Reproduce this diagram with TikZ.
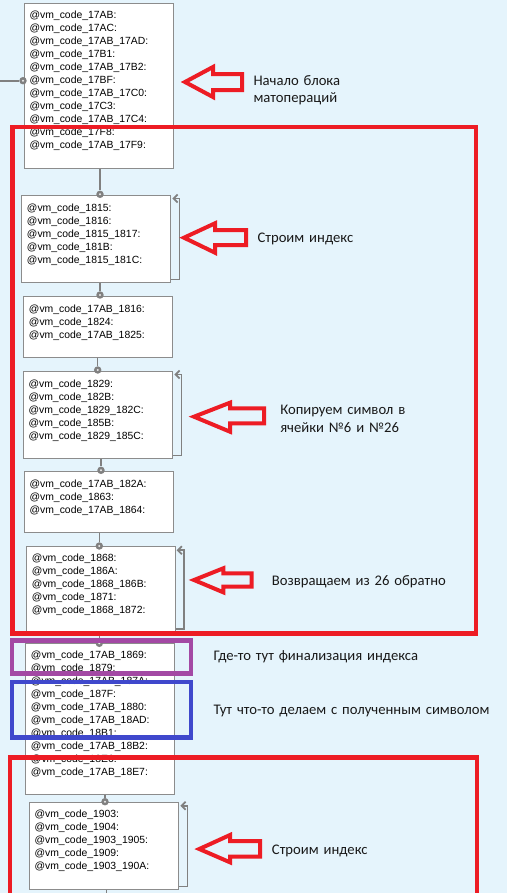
\documentclass[tikz,border=0pt]{standalone}
\usepackage{fontspec}
\setmainfont{Carlito}
\newfontfamily\codefont{Liberation Sans}
\usetikzlibrary{fit,arrows.meta,calc}
\definecolor{bgblue}{RGB}{229,244,252}
\definecolor{boxgray}{RGB}{140,140,140}
\definecolor{conngray}{RGB}{128,128,128}
\definecolor{pred}{RGB}{237,28,36}
\definecolor{ppurple}{RGB}{163,73,164}
\definecolor{pblue}{RGB}{63,72,204}
\begin{document}
\begin{tikzpicture}[x=0.75pt,y=-0.75pt,
  box/.style={draw=boxgray, fill=white, line width=0.75pt, inner sep=0pt},
  code/.style={anchor=base west, inner sep=0pt, text width=120pt, align=left,
    font={\codefont\fontsize{7.8}{9.75}\selectfont}},
  note/.style={anchor=base west, inner sep=0pt, text width=240pt, align=left,
    text=black!90, font={\fontsize{11}{13.3}\selectfont}},
  cdot/.style={circle, fill=conngray, inner sep=0pt, minimum size=5.6pt,
    path picture={\fill[white!85!conngray] (path picture bounding box.center) circle (0.8pt);}},
  conn/.style={draw=conngray, line width=0.9pt},
  loopc/.style={draw=conngray, line width=1.3pt, -{Straight Barb[length=3pt,width=6pt]}},
  redarrow/.style={draw=pred, line width=3pt, line join=miter},
  frame/.style={line width=3.2pt}]
\useasboundingbox (0,0) rectangle (507,893);
\fill[bgblue] (0,0) rectangle (507,893);

% boxes
\node[box, fit={(24.3,3.3) (173.3,168.3)}] (b1) {};
\node[box, fit={(21.3,195) (170.7,282.3)}] (b2) {};
\node[box, fit={(23.3,296) (172.3,357.3)}] (b3) {};
\node[box, fit={(23.3,371) (172.7,458.3)}] (b4) {};
\node[box, fit={(24.3,471.7) (173.3,532.3)}] (b5) {};
\node[box, fit={(26.7,546.7) (175,631.7)}] (b6) {};
\node[box, fit={(25.7,643) (174.3,794)}] (b7) {};
\node[box, fit={(29.3,802.3) (178.7,889.3)}] (b8) {};

% box texts
\node[code] (c1) at (29.3,18.7) {@vm\_code\_17AB:\\@vm\_code\_17AC:\\@vm\_code\_17AB\_17AD:\\@vm\_code\_17B1:\\@vm\_code\_17AB\_17B2:\\@vm\_code\_17BF:\\@vm\_code\_17AB\_17C0:\\@vm\_code\_17C3:\\@vm\_code\_17AB\_17C4:\\@vm\_code\_17F8:\\@vm\_code\_17AB\_17F9:};
\node[code] (c2) at (26.7,211) {@vm\_code\_1815:\\@vm\_code\_1816:\\@vm\_code\_1815\_1817:\\@vm\_code\_181B:\\@vm\_code\_1815\_181C:};
\node[code] (c3) at (28.7,312.4) {@vm\_code\_17AB\_1816:\\@vm\_code\_1824:\\@vm\_code\_17AB\_1825:};
\node[code] (c4) at (28.3,387.7) {@vm\_code\_1829:\\@vm\_code\_182B:\\@vm\_code\_1829\_182C:\\@vm\_code\_185B:\\@vm\_code\_1829\_185C:};
\node[code] (c5) at (29.3,487) {@vm\_code\_17AB\_182A:\\@vm\_code\_1863:\\@vm\_code\_17AB\_1864:};
\node[code] (c6) at (31.7,561.4) {@vm\_code\_1868:\\@vm\_code\_186A:\\@vm\_code\_1868\_186B:\\@vm\_code\_1871:\\@vm\_code\_1868\_1872:};
\node[code] (c7) at (30.7,658) {@vm\_code\_17AB\_1869:\\@vm\_code\_1879:\\@vm\_code\_17AB\_187A:\\@vm\_code\_187F:\\@vm\_code\_17AB\_1880:\\@vm\_code\_17AB\_18AD:\\@vm\_code\_18B1:\\@vm\_code\_17AB\_18B2:\\@vm\_code\_18E6:\\@vm\_code\_17AB\_18E7:};
\node[code] (c8) at (34.3,817) {@vm\_code\_1903:\\@vm\_code\_1904:\\@vm\_code\_1903\_1905:\\@vm\_code\_1909:\\@vm\_code\_1903\_190A:};

% dots
\node[cdot] (d1) at (23,80.7) {};
\node[cdot] (d2) at (100,194.3) {};
\node[cdot] (d3) at (100,295) {};
\node[cdot] (d4) at (97.7,370) {};
\node[cdot] (d5) at (101,470.3) {};
\node[cdot] (d6) at (99.3,546) {};
\node[cdot] (d7) at (99.3,643.3) {};
\node[cdot] (d8) at (105,801.7) {};

% connectors
\coordinate (in) at (0,80.7);
\coordinate (out) at (106.7,896);
\draw[conn, line width=1.5pt] (in) -- (d1);
\draw[conn] (b1.south -| d2) -- (d2);
\draw[conn] (b2.south -| d3) -- (d3);
\draw[conn] (b3.south -| d4) -- (d4);
\draw[conn] (b4.south -| d5) -- (d5);
\draw[conn] (b5.south -| d6) -- (d6);
\draw[conn] (b6.south -| d7) -- (d7);
\draw[conn] (b7.south -| d8) -- (d8);
\draw[conn] (b8.south -| out) -- (out);

% loop brackets
\foreach \b in {b2,b4,b6,b8}{
  \draw[loopc] ($(\b.south east)+(0,-3.3)$) -- ($(\b.south east)+(8.3,-3.3)$)
    -- ($(\b.north east)+(8.3,4)$) -- ($(\b.north east)+(1.2,4)$);
}

% red hollow arrows
\draw[redarrow] (185,82) -- (213,67) -- (213,74) -- (242,74) -- (242,90) -- (213,90) -- (213,97) -- cycle;
\draw[redarrow] (184,237.7) -- (215,223.3) -- (215,230) -- (246,230) -- (246,245) -- (215,245) -- (215,252.7) -- cycle;
\draw[redarrow] (194,416.7) -- (230,402.7) -- (230,408.3) -- (264,408.3) -- (264,423.3) -- (230,423.3) -- (230,431.7) -- cycle;
\draw[redarrow] (194,580) -- (223.3,568.3) -- (223.3,573.3) -- (251.7,573.3) -- (251.7,586.7) -- (223.3,586.7) -- (223.3,592.3) -- cycle;
\draw[redarrow] (199.3,849) -- (230,835) -- (230,841) -- (260,841) -- (260,856.7) -- (230,856.7) -- (230,862.3) -- cycle;

% notes
\node[note] (n1) at (253.3,85) {Начало блока\\матопераций};
\node[note] (n2) at (257.3,242.5) {Строим индекс};
\node[note] (n3) at (280,414.5) {Копируем символ в\\ячейки №6 и №26};
\node[note] (n4) at (271.7,585.5) {Возвращаем из 26 обратно};
\node[note] (n5) at (213.3,660.5) {Где-то тут финализация индекса};
\node[note] (n6) at (213.3,714.8) {Тут что-то делаем с полученным символом};
\node[note] (n7) at (271.7,854.8) {Строим индекс};

% frames
\draw[frame, draw=pred] (12.5,127) rectangle (476,633.5);
\draw[frame, draw=ppurple] (11.7,640.5) rectangle (190.8,673.5);
\draw[frame, draw=pblue] (11.7,681.8) rectangle (190.8,737.5);
\draw[frame, draw=pred] (10,900) -- (10,757.5) -- (476.7,757.5) -- (476.7,900);
\end{tikzpicture}
\end{document}
